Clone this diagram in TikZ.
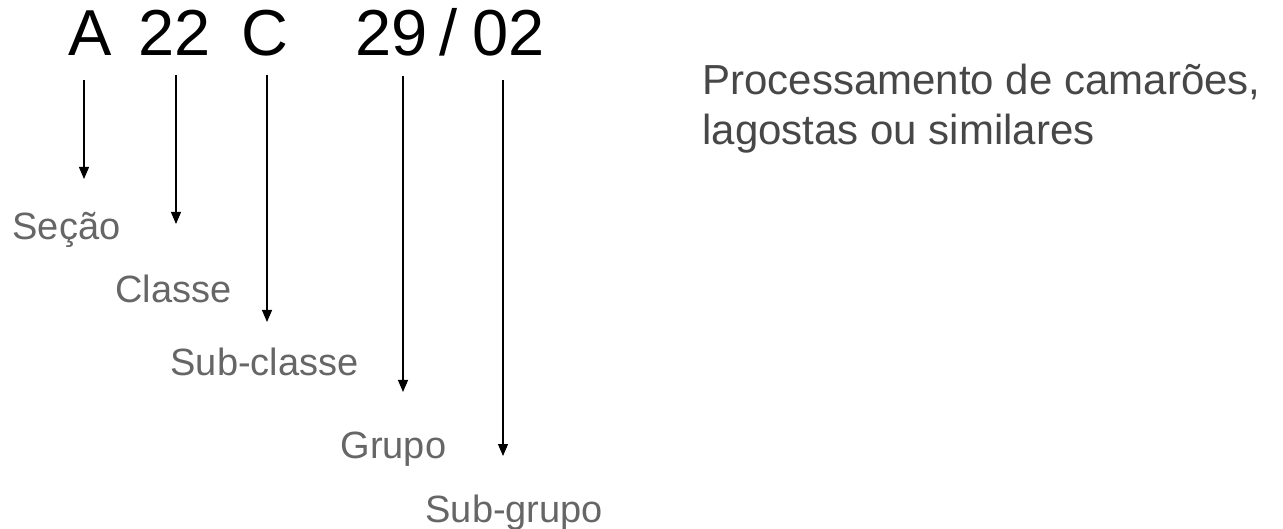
\documentclass[tikz,border=0pt]{standalone}
\usepackage{fontspec}
\setmainfont{Liberation Sans}
\usetikzlibrary{arrows.meta}
\definecolor{partgray}{HTML}{666666}
\definecolor{descgray}{HTML}{474747}

\begin{document}
\begin{tikzpicture}[x=1pt, y=-1pt, >={Triangle[length=12pt, width=10pt]}, line width=1.1pt,
        code/.style={font=\fontsize{65}{65}\selectfont, inner sep=0pt, anchor=base},
        part/.style={font=\fontsize{38}{38}\selectfont, text=partgray, inner sep=0pt, anchor=base west},
        desc/.style={font=\fontsize{42}{50}\selectfont, text=descgray, inner sep=0pt, anchor=base west, align=left}]
        \useasboundingbox (0,0) rectangle (1283,529);
        % codigo
        \node[code] (sec) at (90,56) {A};
        \node[code] (cls) at (175,56) {22};
        \node[code] (sub) at (265,56) {C};
        \node[code] (grp) at (392,56) {29};
        \node[code] (bar) at (449,56) {/};
        \node[code] (sgr) at (509,56) {02};

        % legendas
        \node[part] (lsec) at (12,240) {Seção};
        \node[part] (lcls) at (115,303) {Classe};
        \node[part] (lsub) at (170,375) {Sub-classe};
        \node[part] (lgrp) at (340,458) {Grupo};
        \node[part] (lsgr) at (425,522) {Sub-grupo};

        % descricao (base = ultima linha)
        \node[desc] (desc) at (702,145) {Processamento de camarões,\\lagostas ou similares};

        % pontos das setas
        \coordinate (tsec) at (84,80);   \coordinate (esec) at (84,179);
        \coordinate (tcls) at (176,75);  \coordinate (ecls) at (176,224);
        \coordinate (tsub) at (267,75);  \coordinate (esub) at (267,322);
        \coordinate (tgrp) at (403,76);  \coordinate (egrp) at (403,392);
        \coordinate (tsgr) at (503,80);  \coordinate (esgr) at (503,456);

        % setas
        \draw[->] (tsec) -- (esec);
        \draw[->] (tcls) -- (ecls);
        \draw[->] (tsub) -- (esub);
        \draw[->] (tgrp) -- (egrp);
        \draw[->] (tsgr) -- (esgr);
\end{tikzpicture}
\end{document}
